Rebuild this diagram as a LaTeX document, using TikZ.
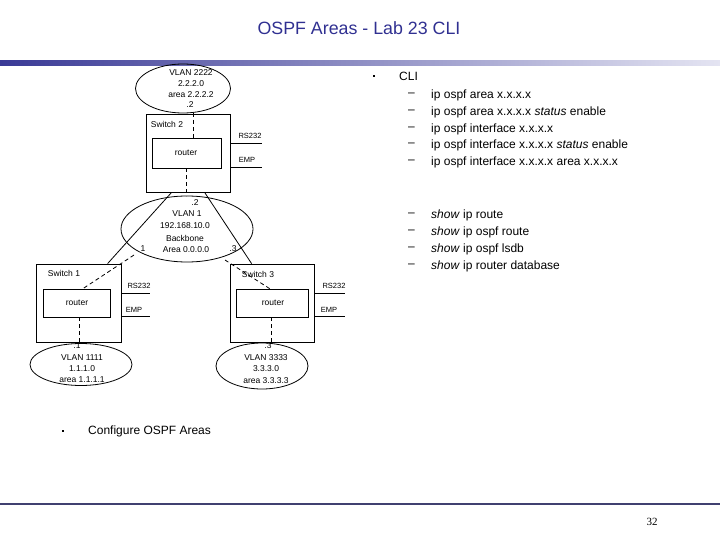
\documentclass[tikz,border=0pt]{standalone}
\usepackage{fontspec}
\setmainfont{Liberation Sans}
\newfontfamily\pagenumfont{Liberation Serif}
\usetikzlibrary{shapes.geometric}
\definecolor{titleblue}{RGB}{48,48,145}
\definecolor{barleft}{RGB}{58,58,150}
\definecolor{barright}{RGB}{228,228,242}
\definecolor{rulecol}{RGB}{64,64,112}
\begin{document}
\begin{tikzpicture}[x=1pt,y=-1pt,
  lbl/.style={font=\fontsize{8.5}{10}\selectfont, inner sep=0pt},
  tiny/.style={font=\fontsize{7.5}{9}\selectfont, inner sep=0pt},
  cli/.style={font=\fontsize{12}{14}\selectfont, inner sep=0pt, anchor=west},
  boxn/.style={draw, line width=0.8pt, inner sep=0pt},
  ell/.style={draw, ellipse, line width=0.8pt, inner sep=0pt},
  conn/.style={line width=0.8pt},
  dconn/.style={line width=0.8pt, dash pattern=on 4pt off 3pt},
  sq/.style={fill=black, minimum size=2.6pt, inner sep=0pt}
]
\useasboundingbox (0,0) rectangle (720,540);
% header
\node[font=\fontsize{17.8}{21}\selectfont, text=titleblue, inner sep=0pt] (title) at (359,28) {OSPF Areas - Lab 23 CLI};
\shade[left color=barleft, right color=barright] (0,61) rectangle (720,65.5);
% footer
\draw[line width=1.3pt, rulecol] (0,504) -- (720,504);
\node[font=\pagenumfont\fontsize{11}{13}\selectfont, inner sep=0pt] (pnum) at (652,522) {32};

% VLAN 2222
\node[ell, minimum width=95pt, minimum height=49pt] (v2) at (183,88.5) {};
\node[lbl] (v2a) at (191,73) {VLAN 2222};
\node[lbl] (v2b) at (191,84) {2.2.2.0};
\node[lbl] (v2c) at (191,95) {area 2.2.2.2};
\node[lbl] (v2d) at (190,105) {.2};

% Switch 2
\node[boxn, minimum width=84pt, minimum height=78pt] (sw2) at (188,153) {};
\node[boxn, minimum width=69pt, minimum height=30pt] (r2) at (186.5,153) {};
\node[lbl] (sw2l) at (167,124) {Switch 2};
\node[lbl] (r2l) at (186,153) {router};
\node[tiny] (sw2rs) at (250,136) {RS232};
\node[tiny] (sw2emp) at (247,159.5) {EMP};
\draw[conn] ([shift={(0,30)}]sw2.north east) -- ++(32,0);
\draw[conn] ([shift={(0,54)}]sw2.north east) -- ++(32,0);
\draw[dconn] ([shift={(10,24.5)}]v2.center) -- ([xshift=6.5pt]r2.north);
\draw[dconn] (r2.south) -- ++(0,28);

% Backbone
\node[ell, minimum width=132pt, minimum height=66pt] (bb) at (187,229) {};
\node[lbl] (bba) at (195,203) {.2};
\node[lbl] (bbb) at (187,214) {VLAN 1};
\node[lbl] (bbc) at (185,226) {192.168.10.0};
\node[lbl] (bbd) at (185,238) {Backbone};
\node[lbl] (bbe) at (186,249.5) {Area 0.0.0.0};
\node[lbl] (bb1) at (143,248.5) {1};
\node[lbl] (bb3) at (233,248.5) {.3};

% Switch 1
\node[boxn, minimum width=85pt, minimum height=78pt] (sw1) at (78.5,303) {};
\node[boxn, minimum width=67pt, minimum height=28pt] (r1) at (76.5,303) {};
\node[lbl] (sw1l) at (64,273) {Switch 1};
\node[lbl] (r1l) at (77,303) {router};
\node[tiny] (sw1rs) at (139,286) {RS232};
\node[tiny] (sw1emp) at (134,310) {EMP};
\draw[conn] ([shift={(0,30)}]sw1.north east) -- ++(29,0);
\draw[conn] ([shift={(0,53)}]sw1.north east) -- ++(29,0);

% Switch 3
\node[boxn, minimum width=84pt, minimum height=78pt] (sw3) at (272,303) {};
\node[boxn, minimum width=72pt, minimum height=28pt] (r3) at (272,303) {};
\node[lbl] (sw3l) at (258,274) {Switch 3};
\node[lbl] (r3l) at (273,303) {router};
\node[tiny] (sw3rs) at (334,286) {RS232};
\node[tiny] (sw3emp) at (329,310) {EMP};
\draw[conn] ([shift={(0,30)}]sw3.north east) -- ++(31,0);
\draw[conn] ([shift={(0,53)}]sw3.north east) -- ++(31,0);

% solid links
\draw[conn] ([xshift=26pt]sw2.south west) -- ([xshift=72pt]sw1.north west);
\draw[conn] ([xshift=59pt]sw2.south west) -- ([xshift=22pt]sw3.north west);
% dashed links
\coordinate (bbl) at (134,255);
\coordinate (bbr) at (225,260);
\draw[dconn] (bbl) -- ([xshift=6.5pt]r1.north);
\draw[dconn] (bbr) -- ([xshift=34pt]r3.north west);
\draw[dconn] ([xshift=2.5pt]r1.south) -- ++(0,27);
\draw[dconn] ([xshift=-1pt]r3.south) -- ++(0,27);

% VLAN 1111
\node[ell, minimum width=102pt, minimum height=42pt] (v1) at (81,364.5) {};
\node[lbl] (v1a) at (77,346) {.1};
\node[lbl] (v1b) at (82,357.5) {VLAN 1111};
\node[lbl] (v1c) at (82,369) {1.1.1.0};
\node[lbl] (v1d) at (82,380) {area 1.1.1.1};

% VLAN 3333
\node[ell, minimum width=92pt, minimum height=46pt] (v3) at (262,366) {};
\node[lbl] (v3a) at (268,346) {.3};
\node[lbl] (v3b) at (266,357.5) {VLAN 3333};
\node[lbl] (v3c) at (266,369) {3.3.3.0};
\node[lbl] (v3d) at (266,380.5) {area 3.3.3.3};

% bottom bullet
\node[sq] (b2) at (63,431) {};
\node[cli] (cfg) at (88,431) {Configure OSPF Areas};

% CLI list
\node[sq] (b1) at (374,76) {};
\node[cli] (clih) at (399,76) {CLI};
\foreach \yy/\txt [count=\i] in {
  95/{ip ospf area x.x.x.x},
  112/{ip ospf area x.x.x.x \textit{status} enable},
  129/{ip ospf interface x.x.x.x},
  145/{ip ospf interface x.x.x.x \textit{status} enable},
  162/{ip ospf interface x.x.x.x area x.x.x.x},
  215/{\textit{show} ip route},
  232/{\textit{show} ip ospf route},
  249/{\textit{show} ip ospf lsdb},
  266/{\textit{show} ip router database}}{
  \node[cli] (dash\i) at (408,\yy) {\textendash};
  \node[cli] (item\i) at (431,\yy) {\txt};
}
\end{tikzpicture}
\end{document}
